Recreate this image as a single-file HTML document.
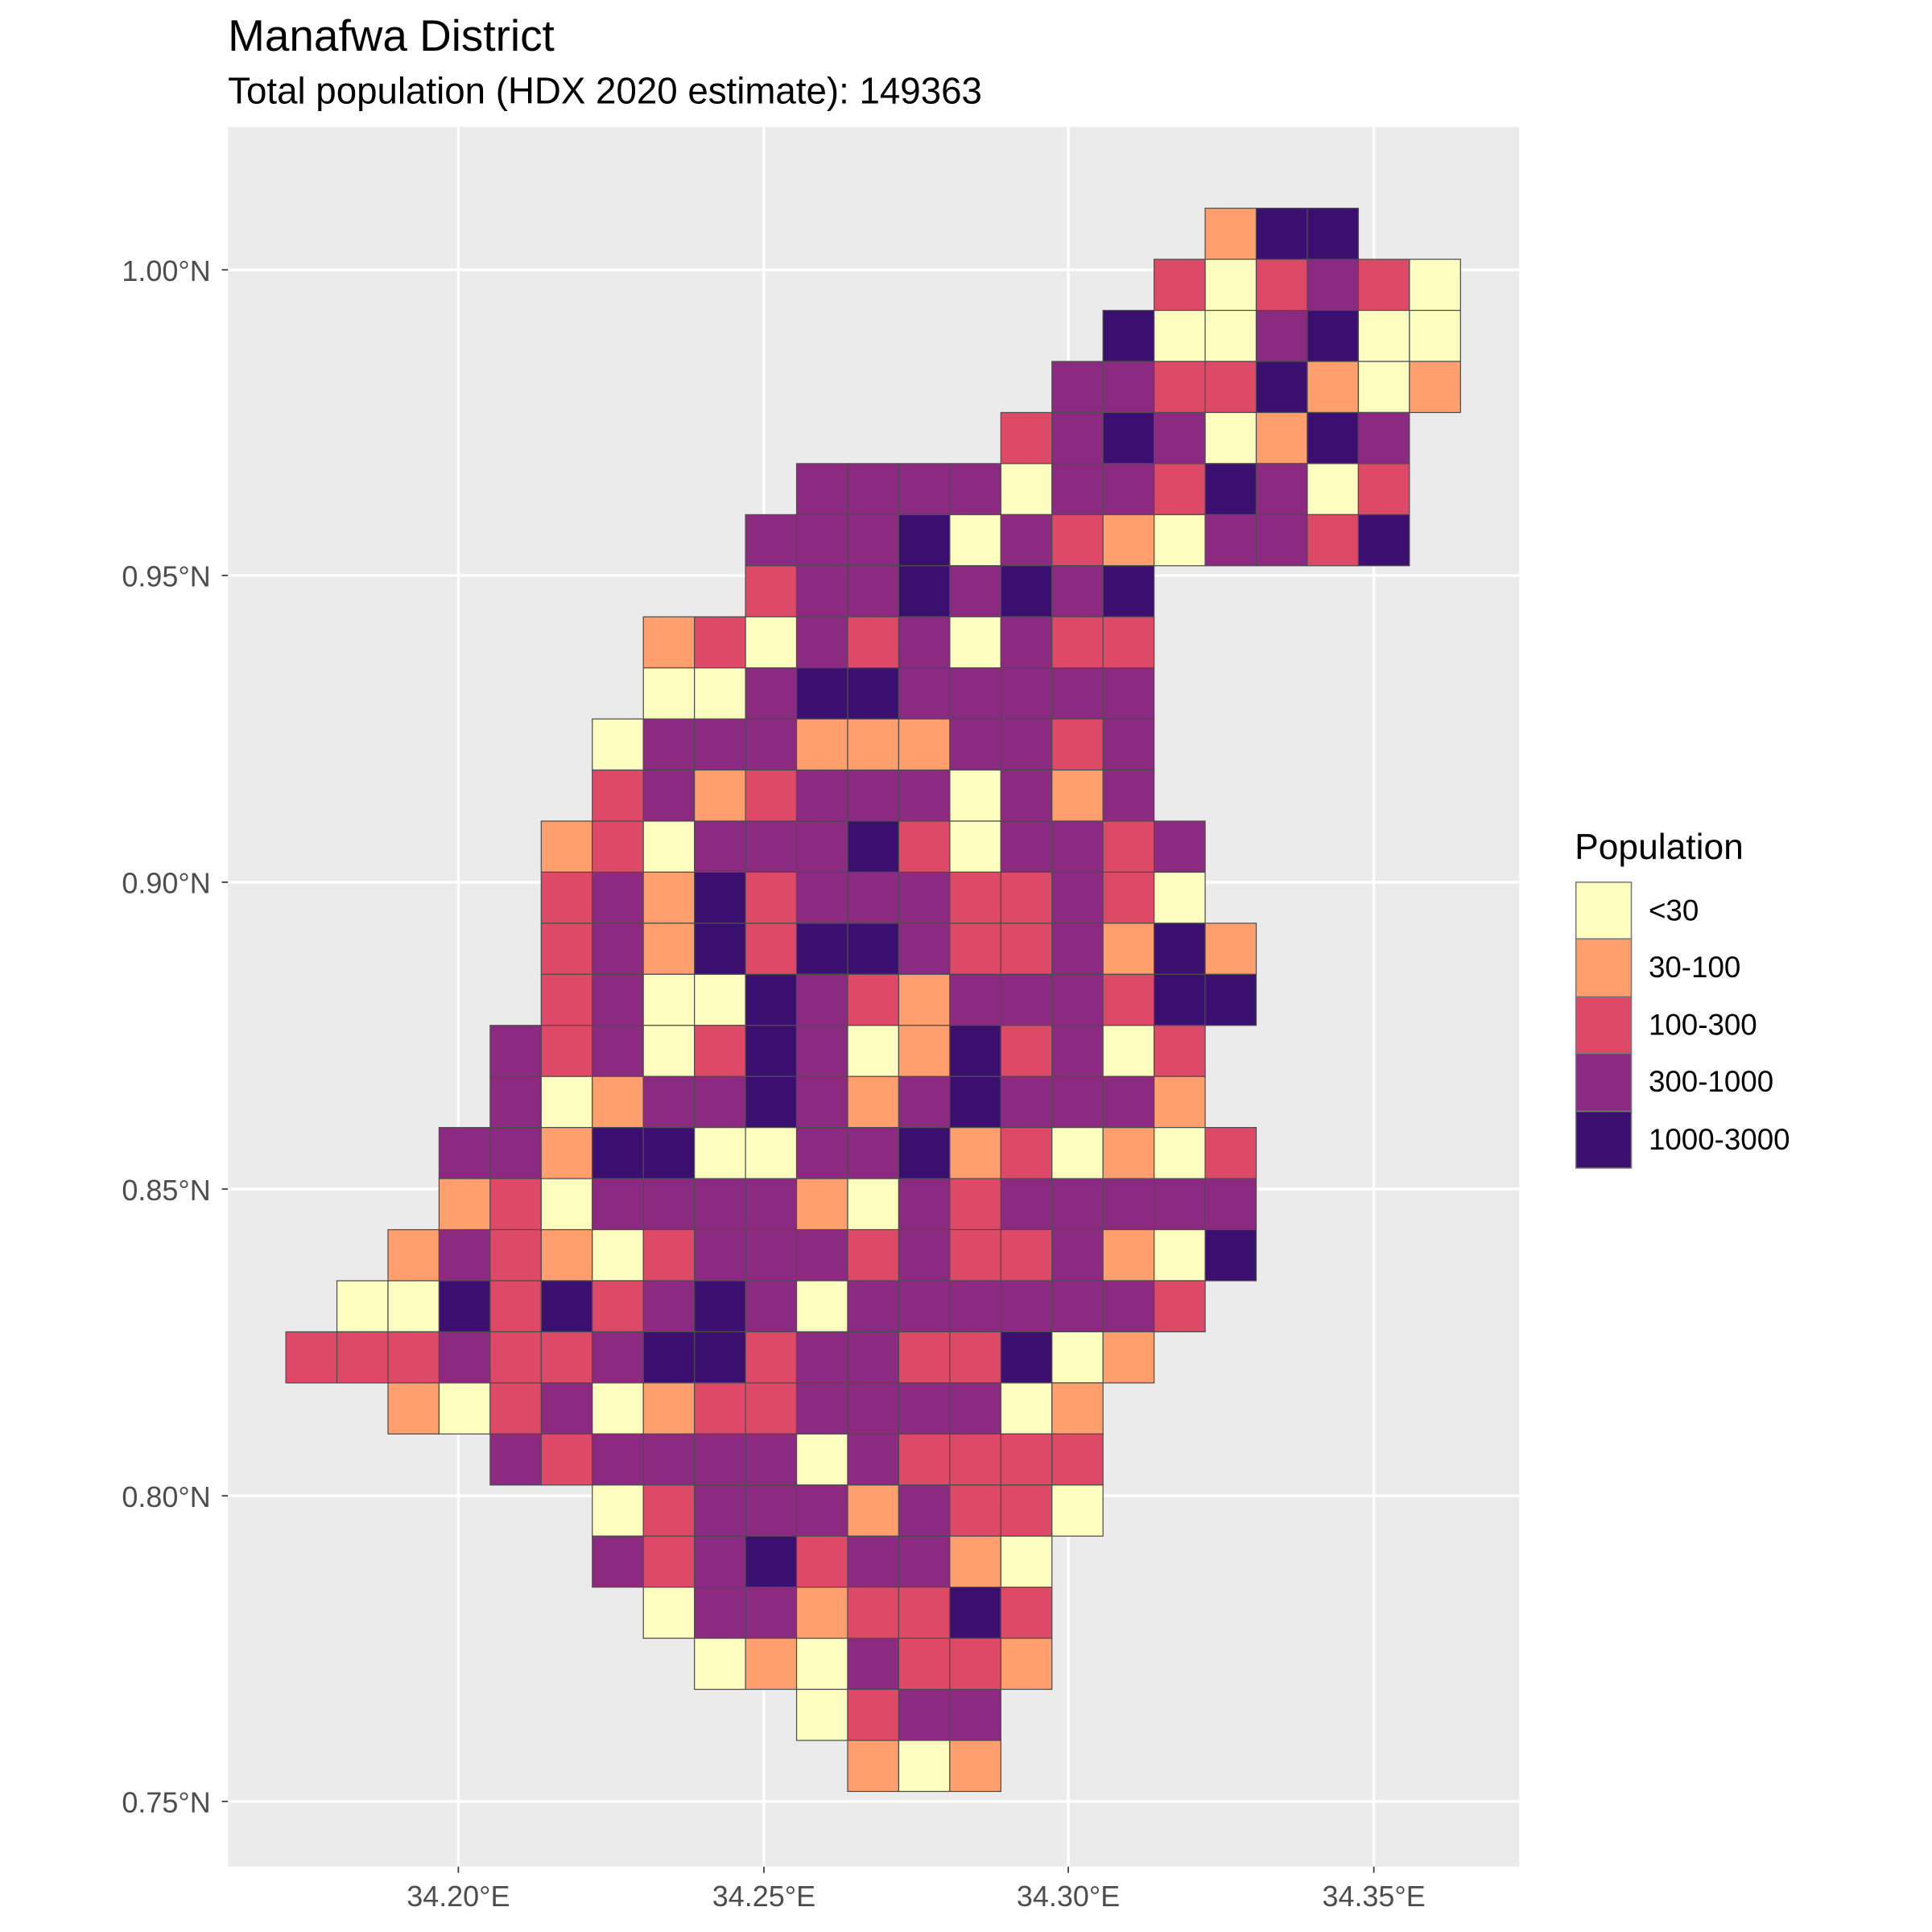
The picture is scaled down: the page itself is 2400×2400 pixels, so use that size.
<!DOCTYPE html>
<html><head><meta charset="utf-8"><style>
html,body{margin:0;padding:0;background:#fff;}
svg{display:block;font-family:"Liberation Sans",Arial,sans-serif;}
</style></head><body>
<svg id="s" width="2400" height="2400" viewBox="0 0 1568 1568" xmlns="http://www.w3.org/2000/svg">
<rect x="0" y="0" width="1568" height="1568" fill="#fff"/>
<text x="185" y="41" font-size="36" fill="#000" textLength="265" lengthAdjust="spacingAndGlyphs">Manafwa District</text>
<text x="185" y="84" font-size="30" fill="#000" textLength="612" lengthAdjust="spacingAndGlyphs">Total population (HDX 2020 estimate): 149363</text>
<rect x="185" y="103" width="1048" height="1412" fill="#EBEBEB"/>
<g stroke="#fff" stroke-width="2.2">
<line x1="372" y1="103" x2="372" y2="1515"/><line x1="620" y1="103" x2="620" y2="1515"/>
<line x1="867" y1="103" x2="867" y2="1515"/><line x1="1115" y1="103" x2="1115" y2="1515"/>
<line x1="185" y1="219" x2="1233" y2="219"/><line x1="185" y1="467" x2="1233" y2="467"/>
<line x1="185" y1="716" x2="1233" y2="716"/><line x1="185" y1="965" x2="1233" y2="965"/>
<line x1="185" y1="1214" x2="1233" y2="1214"/><line x1="185" y1="1462" x2="1233" y2="1462"/>
</g>
<g id="cells" stroke="#4d4d4d" stroke-width="0.8"></g>
<g stroke="#333" stroke-width="1.1">
<line x1="180" y1="219" x2="185" y2="219"/><line x1="180" y1="467" x2="185" y2="467"/>
<line x1="180" y1="716" x2="185" y2="716"/><line x1="180" y1="965" x2="185" y2="965"/>
<line x1="180" y1="1214" x2="185" y2="1214"/><line x1="180" y1="1462" x2="185" y2="1462"/>
<line x1="372" y1="1515" x2="372" y2="1520"/><line x1="620" y1="1515" x2="620" y2="1520"/>
<line x1="867" y1="1515" x2="867" y2="1520"/><line x1="1115" y1="1515" x2="1115" y2="1520"/>
</g>
<g font-size="23.5" fill="#4D4D4D" text-anchor="end">
<text x="171" y="228">1.00°N</text><text x="171" y="476">0.95°N</text>
<text x="171" y="725">0.90°N</text><text x="171" y="974">0.85°N</text>
<text x="171" y="1223">0.80°N</text><text x="171" y="1471">0.75°N</text>
</g>
<g font-size="23.5" fill="#4D4D4D" text-anchor="middle">
<text x="372" y="1547">34.20°E</text><text x="620" y="1547">34.25°E</text>
<text x="867" y="1547">34.30°E</text><text x="1115" y="1547">34.35°E</text>
</g>
<text x="1278" y="697" font-size="29" fill="#000">Population</text>
<g stroke="#777" stroke-width="1">
<rect x="1279" y="716" width="45" height="46" fill="#FCFDBF"/>
<rect x="1279" y="762" width="45" height="47" fill="#FE9F6D"/>
<rect x="1279" y="809" width="45" height="46" fill="#DE4968"/>
<rect x="1279" y="855" width="45" height="47" fill="#8C2981"/>
<rect x="1279" y="902" width="45" height="46" fill="#3B0F70"/>
</g>
<g font-size="24" fill="#000">
<text x="1338" y="747">&lt;30</text><text x="1338" y="793">30-100</text>
<text x="1338" y="840">100-300</text><text x="1338" y="886">300-1000</text>
<text x="1338" y="933">1000-3000</text>
</g>
</svg>
<script>
var rows=[
[18,"ODD"],[17,"RYRPRY"],[16,"DYYPDYY"],[15,"PPRRDOYO"],[14,"RPDPYODP"],
[10,"PPPPYPPRDPYR"],[9,"PPPDYPROYPPRD"],[9,"RPPDPDPD"],[7,"ORYPRPYPRR"],
[7,"YYPDDPPPPP"],[6,"YPPPOOOPPRP"],[6,"RPORPPPYPOP"],[5,"ORYPPPDRYPPRP"],
[5,"RPODRPPPRRPRY"],[5,"RPODRDDPRRPODO"],[5,"RPYYDPROPPPRDD"],[4,"PRPYRDPYODRPYR"],
[4,"PYOPPDPOPDPPPO"],[3,"PPODDYYPPDORYOYR"],[3,"ORYPPPPOYPRPPPPP"],
[2,"OPROYRPPPRPRRPOYD"],[1,"YYDRDRPDPYPPPPPPR"],[0,"RRRPRRPDDRPPRRDYO"],
[2,"OYRPYORRPPPPYO"],[4,"PRPPPPYPRRRR"],[6,"YRPPPOPRRY"],[6,"PRPDRPPOY"],
[7,"YPPORRDR"],[8,"YOYPRRO"],[10,"YRPP"],[11,"OYO"]];
var col={Y:"#FCFDBF",O:"#FE9F6D",R:"#DE4968",P:"#8C2981",D:"#3B0F70"};
var g=document.getElementById("cells"),ns="http://www.w3.org/2000/svg",w=41.45;
rows.forEach(function(r,i){for(var k=0;k<r[1].length;k++){var e=document.createElementNS(ns,"rect");
e.setAttribute("x",232+(r[0]+k)*w);e.setAttribute("y",169+i*w);e.setAttribute("width",w);e.setAttribute("height",w);
e.setAttribute("fill",col[r[1][k]]);g.appendChild(e);}});
</script>
</body></html>
